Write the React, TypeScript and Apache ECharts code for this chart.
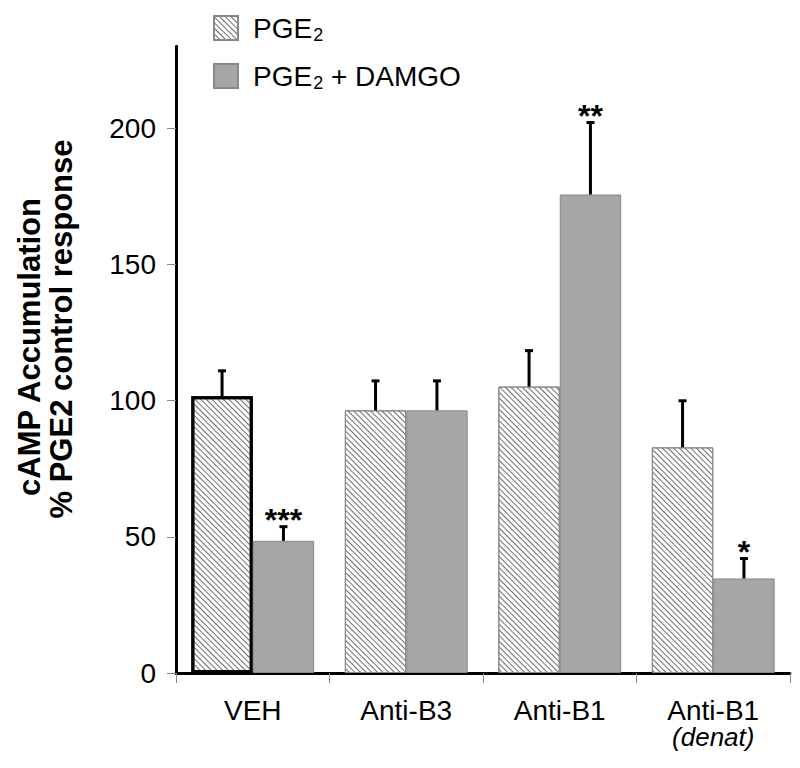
import React, { useEffect, useRef } from "react";
import * as echarts from "echarts";

const categories = ["VEH", "Anti-B3", "Anti-B1", "Anti-B1\n(denat)"];
const seriesNames = ["PGE₂", "PGE₂ + DAMGO"];
const pgeValues = [101.6, 96.4, 105.1, 82.8];
const pgeErrors = [9.3, 10.8, 13.2, 17.1];
const damgoValues = [48.5, 96.4, 175.6, 34.7];
const damgoErrors = [5.2, 10.8, 26.4, 7.3];
const damgoStars = ["***", "", "**", "*"];
const yTicks = [0, 50, 100, 150, 200];

const FONT = '"Liberation Sans", Arial, Helvetica, sans-serif';

export default function App() {
  const ref = useRef<HTMLDivElement>(null);
  useEffect(() => {
    if (!ref.current) return;
    const chart = echarts.init(ref.current, null, { renderer: "svg" });

    const errRender = (side: number, stars: string[] | null) => (params: any, api: any) => {
      const idx = api.value(0);
      const v = api.value(1);
      const e = api.value(2);
      const band = api.size([1, 0])[0];
      const off = side * band * 0.2;
      const base = api.coord([idx, v]);
      const top = api.coord([idx, v + e]);
      const x = base[0] + off;
      const children: any[] = [
        { type: "line", shape: { x1: x, y1: base[1], x2: x, y2: top[1] }, style: { stroke: "#000", lineWidth: 3 } },
        { type: "line", shape: { x1: x - 4, y1: top[1], x2: x + 4, y2: top[1] }, style: { stroke: "#000", lineWidth: 3 } },
      ];
      if (stars && stars[params.dataIndex]) {
        children.push({
          type: "text",
          style: {
            text: stars[params.dataIndex],
            x: x,
            y: top[1] - 7,
            align: "center",
            verticalAlign: "middle",
            font: `bold 32px ${FONT}`,
            fill: "#000",
          },
        });
      }
      return { type: "group", children };
    };

    const option: any = {
      animation: false,
      backgroundColor: "#fff",
      grid: { left: 176, right: 10, top: 46.25, bottom: 95, containLabel: false },
      legend: {
        orient: "vertical",
        left: 208,
        top: 7,
        itemWidth: 24,
        itemHeight: 24,
        itemGap: 16,
        icon: "rect",
        data: seriesNames,
        formatter: (name: string) => {
          const i = name.indexOf("₂");
          if (i < 0) return `{a|${name}}`;
          const rest = name.slice(i + 1);
          return `{a|${name.slice(0, i)}}{s|2}` + (rest ? `{a|${rest}}` : "");
        },
        textStyle: {
          fontSize: 28,
          color: "#000",
          fontFamily: FONT,
          padding: [0, 0, 0, 10],
          rich: {
            a: { fontSize: 28, fontFamily: FONT, color: "#000", lineHeight: 32 },
            s: { fontSize: 18, fontFamily: FONT, color: "#000", lineHeight: 18, padding: [14, 0, 0, 1] },
          },
        },
      },
      xAxis: {
        type: "category",
        data: categories,
        axisLine: { lineStyle: { color: "#000", width: 3 } },
        axisTick: { show: true, interval: 0, length: 10, lineStyle: { color: "#888", width: 1 } },
        axisLabel: {
          interval: 0,
          margin: 23,
          fontSize: 28,
          color: "#000",
          fontFamily: FONT,
          lineHeight: 28,
          formatter: (val: string) => {
            const parts = val.split("\n");
            if (parts.length > 1) return `{a|${parts[0]}}\n{i|${parts[1]}}`;
            return `{a|${val}}`;
          },
          rich: {
            a: { fontSize: 28, fontFamily: FONT, color: "#000", lineHeight: 28 },
            i: { fontSize: 26, fontFamily: FONT, color: "#000", fontStyle: "italic", lineHeight: 26 },
          },
        },
        splitLine: { show: false },
      },
      yAxis: {
        type: "value",
        min: 0,
        max: 230,
        interval: 50,
        axisLine: { show: true, lineStyle: { color: "#000", width: 3 } },
        axisTick: { show: true, length: 9, customValues: yTicks, lineStyle: { color: "#888", width: 1 } },
        axisLabel: { customValues: yTicks, margin: 20, fontSize: 28, color: "#000", fontFamily: FONT },
        splitLine: { show: false },
      },
      graphic: [
        {
          type: "text",
          x: 29,
          y: 347,
          rotation: Math.PI / 2,
          style: {
            text: "cAMP Accumulation",
            font: `bold 31px ${FONT}`,
            fill: "#000",
            align: "center",
            verticalAlign: "middle",
          },
        },
        {
          type: "text",
          x: 61,
          y: 329,
          rotation: Math.PI / 2,
          style: {
            text: "% PGE2 control response",
            font: `bold 31px ${FONT}`,
            fill: "#000",
            align: "center",
            verticalAlign: "middle",
          },
        },
      ],
      series: [
        {
          name: seriesNames[0],
          type: "bar",
          barGap: "0%",
          barCategoryGap: "20%",
          itemStyle: {
            color: "#fff",
            borderColor: "#888",
            borderWidth: 1,
            decal: {
              symbol: "rect",
              symbolSize: 1,
              color: "rgba(60,60,60,0.75)",
              dashArrayX: [1, 0],
              dashArrayY: [1, 2.2],
              rotation: Math.PI / 4,
            },
          },
          data: pgeValues.map((v, i) =>
            i === 0 ? { value: v, itemStyle: { borderColor: "#000", borderWidth: 3 } } : v
          ),
        },
        {
          name: seriesNames[1],
          type: "bar",
          barGap: "0%",
          barCategoryGap: "20%",
          itemStyle: { color: "#a6a6a6", borderColor: "#888", borderWidth: 1 },
          data: damgoValues,
        },
        {
          type: "custom",
          renderItem: errRender(-1, null),
          encode: { x: 0, y: [1] },
          data: pgeValues.map((v, i) => [i, v, pgeErrors[i]]),
          z: 5,
          silent: true,
        },
        {
          type: "custom",
          renderItem: errRender(1, damgoStars),
          encode: { x: 0, y: [1] },
          data: damgoValues.map((v, i) => [i, v, damgoErrors[i]]),
          z: 5,
          silent: true,
        },
      ],
    };
    chart.setOption(option);
    return () => chart.dispose();
  }, []);
  return <div ref={ref} style={{ width: 800, height: 768, margin: -8 }} />;
}
